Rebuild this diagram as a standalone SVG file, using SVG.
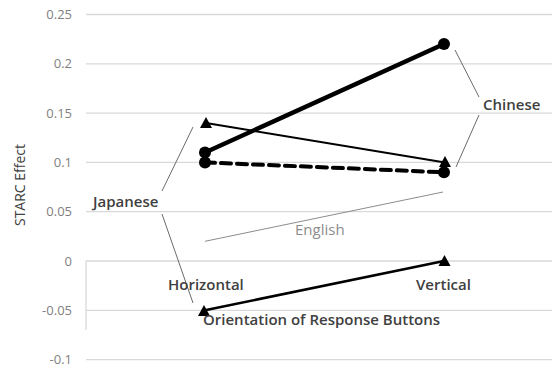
<svg xmlns="http://www.w3.org/2000/svg" xmlns:xlink="http://www.w3.org/1999/xlink" width="552" height="367" viewBox="0 0 552 367">
<style>
.grid{stroke:#d9d9d9;stroke-width:1.3;fill:none}
.tick{font-family:"Open Sans","Liberation Sans",sans-serif;font-size:13px;fill:#7f7f7f;text-anchor:end}
.lbl{font-family:"Open Sans","Liberation Sans",sans-serif;font-size:15px;font-weight:600;fill:#404040}
.lead{stroke:#6b6b6b;stroke-width:1;fill:none}
.ser{stroke:#000;fill:none;stroke-linecap:round}
</style>
<defs>
<circle id="dot" r="6" fill="#000"/>
<polygon id="tri" points="0,-6 6,5 -6,5" fill="#000"/>
</defs>
<rect width="552" height="367" fill="#fff"/>
<g id="gridlines">
<line class="grid" x1="86" y1="14.5" x2="552" y2="14.5"/>
<line class="grid" x1="86" y1="63.8" x2="552" y2="63.8"/>
<line class="grid" x1="86" y1="113.1" x2="552" y2="113.1"/>
<line class="grid" x1="86" y1="162.4" x2="552" y2="162.4"/>
<line class="grid" x1="86" y1="211.7" x2="552" y2="211.7"/>
<line class="grid" x1="86" y1="261" x2="552" y2="261"/>
<line class="grid" x1="86" y1="310.3" x2="552" y2="310.3"/>
<line class="grid" x1="86" y1="359.6" x2="552" y2="359.6"/>
<line class="grid" x1="86" y1="261" x2="86" y2="330"/>
</g>
<g id="ticks">
<text class="tick" x="72" y="19">0.25</text>
<text class="tick" x="72" y="68">0.2</text>
<text class="tick" x="72" y="117.5">0.15</text>
<text class="tick" x="72" y="167">0.1</text>
<text class="tick" x="72" y="216">0.05</text>
<text class="tick" x="72" y="265.5">0</text>
<text class="tick" x="72" y="315">-0.05</text>
<text class="tick" x="72" y="364">-0.1</text>
</g>
<text id="ytitle" class="lbl" style="font-weight:500;font-size:14px" transform="translate(25,185) rotate(-90)" text-anchor="middle">STARC Effect</text>
<g id="connectors">
<line x1="205" y1="241.3" x2="443" y2="192" stroke="#8c8c8c" stroke-width="1"/>
<line class="ser" x1="205" y1="152.5" x2="444" y2="44" stroke-width="4.5"/>
<line class="ser" x1="205" y1="162.4" x2="444" y2="172.3" stroke-width="4" stroke-dasharray="10,6" stroke-linecap="butt"/>
<line class="ser" x1="206" y1="123" x2="445" y2="162.4" stroke-width="2"/>
<line class="ser" x1="205" y1="310.3" x2="444" y2="261" stroke-width="2.6"/>
<line class="lead" x1="193" y1="127" x2="162" y2="191"/>
<line class="lead" x1="162" y1="214" x2="193" y2="303"/>
<line class="lead" x1="455" y1="50" x2="479" y2="97"/>
<line class="lead" x1="479" y1="115" x2="456" y2="167"/>
</g>
<g id="markers">
<use xlink:href="#dot" x="205" y="152.5"/>
<use xlink:href="#dot" x="444" y="44"/>
<use xlink:href="#dot" x="205" y="162.4"/>
<use xlink:href="#dot" x="444" y="172.3"/>
<use xlink:href="#tri" x="206" y="123"/>
<use xlink:href="#tri" x="445" y="162"/>
<use xlink:href="#tri" x="204" y="311"/>
<use xlink:href="#tri" x="444.5" y="261"/>
</g>
<g id="label-chinese"><text class="lbl" x="483" y="110">Chinese</text></g>
<g id="label-japanese"><text class="lbl" x="93" y="207">Japanese</text></g>
<g id="label-english"><text class="lbl" style="font-weight:500;fill:#8c8c8c" x="295" y="235">English</text></g>
<g id="label-horizontal"><text class="lbl" x="168" y="290">Horizontal</text></g>
<g id="label-vertical"><text class="lbl" x="416" y="290">Vertical</text></g>
<g id="label-xtitle"><text class="lbl" x="203" y="325">Orientation of Response Buttons</text></g>
</svg>
